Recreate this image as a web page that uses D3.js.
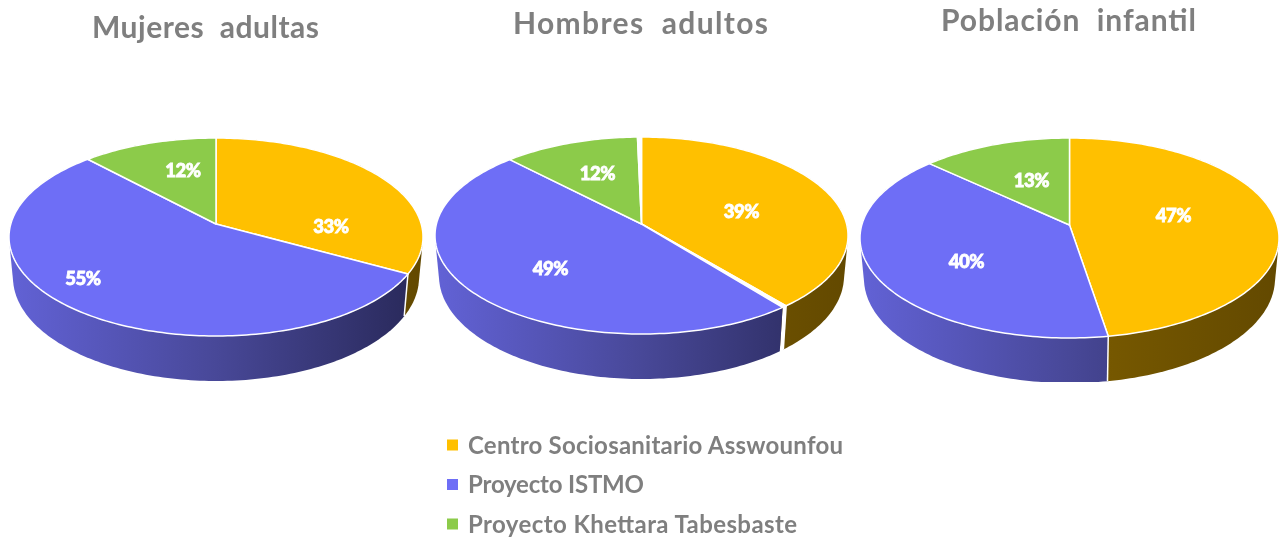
<!DOCTYPE html>
<html>
<head>
<meta charset="utf-8">
<script src="https://cdn.jsdelivr.net/npm/d3@7"></script>
<style>
  html, body { margin: 0; background: #fff; }
  svg { display: block; filter: blur(0.5px); }
  text { font-family: Lato, "Open Sans", sans-serif; }
</style>
</head>
<body>
<div id="chart"></div>
<script>
var categories = ["Centro Sociosanitario Asswounfou", "Proyecto ISTMO", "Proyecto Khettara Tabesbaste"];
var pieTitles = ["Mujeres  adultas", "Hombres  adultos", "Población  infantil"];

var mujeres = [33, 55, 12];
var hombres = [38.9, 48.5, 11.9];
var infantil = [47.4, 39.5, 13.1];
// hombres has two thin white slivers, one after yellow and one after green
var mujeresGaps = [0, 0, 0];
var hombresGaps = [0.35, 0, 0.35];
var infantilGaps = [0, 0, 0];

var colors = ["#FFC000", "#6E6EF6", "#8CCB4A"];

var width = 1279, height = 537;

// top: back of rim, apex: where the slices meet, bottom: front of rim
var layout = [
  { values: mujeres, gaps: mujeresGaps, cx: 216, rx: 207, top: 138, apex: 224, bottom: 336, titleX: 205.5, titleY: 38, titleW: 227, labels: [[115, 3], [-133, 55], [-33, -53]] },
  { values: hombres, gaps: hombresGaps, cx: 641.5, rx: 206.5, top: 137, apex: 224, bottom: 334, titleX: 640.5, titleY: 34, titleW: 255, labels: [[100, -12], [-91, 45], [-44, -50]] },
  { values: infantil, gaps: infantilGaps, cx: 1069.5, rx: 209.5, top: 138, apex: 225, bottom: 338, titleX: 1068.5, titleY: 31, titleW: 255, labels: [[104, -9], [-103, 37], [-38, -44]] }
];
var legendWidths = [375, 176, 329];
var wallDepth = 45, wallInset = 4, wallBackDepth = 36;

var svg = d3.select("#chart").append("svg")
  .attr("width", width)
  .attr("height", height);

var defs = svg.append("defs");

// the source picture is cut just under the pies
defs.append("clipPath").attr("id", "cut")
  .append("rect")
  .attr("x", 0).attr("y", 0)
  .attr("width", width).attr("height", 382);

// maps a point of the flat disc to the screen, so the apex sits off centre like in the picture
function makeProjection(cx, rx, top, apex, bottom) {
  var c = (2 * apex - top - bottom) / (bottom - top);
  var a = bottom + bottom * c - apex;
  var k = rx * Math.sqrt(1 - c * c);
  return function(angle, r) {
    var x = Math.sin(angle) * r;
    var z = -Math.cos(angle) * r;
    var w = 1 + c * z;
    return [cx + k * x / w, (a * z + apex) / w];
  };
}

function samples(d) {
  var n = Math.max(2, Math.ceil((d.endAngle - d.startAngle) / 0.02));
  return d3.range(n + 1).map(function(i) {
    return d.startAngle + (d.endAngle - d.startAngle) * i / n;
  });
}

var line = d3.line();
var pie = d3.pie().sort(null).value(function(d) { return d.value; });

layout.forEach(function(p, idx) {
  var topFace = makeProjection(p.cx, p.rx, p.top, p.apex, p.bottom);
  var lowFace = makeProjection(p.cx, p.rx - wallInset, p.top + wallBackDepth, p.apex + wallBackDepth + 4, p.bottom + wallDepth);

  // slices with the white slivers put in between
  var rows = [];
  p.values.forEach(function(v, i) {
    rows.push({ value: v, cat: i });
    if (p.gaps[i] > 0) rows.push({ value: p.gaps[i], cat: -1 });
  });
  var arcs = pie(rows);

  var purple = defs.append("linearGradient").attr("id", "purple" + idx)
    .attr("gradientUnits", "userSpaceOnUse")
    .attr("x1", p.cx - p.rx).attr("x2", p.cx + p.rx).attr("y1", 0).attr("y2", 0);
  purple.append("stop").attr("offset", "0%").attr("stop-color", "#6262D6");
  purple.append("stop").attr("offset", "50%").attr("stop-color", "#484898");
  purple.append("stop").attr("offset", "100%").attr("stop-color", "#282858");

  var yellow = defs.append("linearGradient").attr("id", "yellow" + idx)
    .attr("gradientUnits", "userSpaceOnUse")
    .attr("x1", p.cx - p.rx).attr("x2", p.cx + p.rx).attr("y1", 0).attr("y2", 0);
  yellow.append("stop").attr("offset", "50%").attr("stop-color", "#7A5B00");
  yellow.append("stop").attr("offset", "100%").attr("stop-color", "#634900");

  var g = svg.append("g");
  var walls = g.append("g").attr("clip-path", "url(#cut)");

  // hull of both rims, the top face hides whatever lies above the front edge
  walls.selectAll("path")
    .data(arcs)
    .enter()
    .append("path")
    .attr("d", function(d) {
      var angles = samples(d);
      var upper = angles.map(function(a) { return topFace(a, 1); });
      var lower = angles.map(function(a) { return lowFace(a, 1); });
      return line(d3.polygonHull(upper.concat(lower))) + "Z";
    })
    .attr("fill", function(d) {
      if (d.data.cat === 0) return "url(#yellow" + idx + ")";
      if (d.data.cat === 1) return "url(#purple" + idx + ")";
      if (d.data.cat === 2) return "#4F7A24";
      return "#fff";
    });

  // white seams where two slices meet on the front of the wall
  walls.selectAll("line")
    .data(arcs.filter(function(d) {
      return d.data.cat >= 0 && Math.cos(d.endAngle) < -0.2;
    }))
    .enter()
    .append("line")
    .attr("x1", function(d) { return topFace(d.endAngle, 1)[0]; })
    .attr("y1", function(d) { return topFace(d.endAngle, 1)[1]; })
    .attr("x2", function(d) { return lowFace(d.endAngle, 1)[0]; })
    .attr("y2", function(d) { return lowFace(d.endAngle, 1)[1]; })
    .attr("stroke", "#fff")
    .attr("stroke-width", 1.5);

  g.append("g").selectAll("path")
    .data(arcs)
    .enter()
    .append("path")
    .attr("d", function(d) {
      var pts = samples(d).map(function(a) { return topFace(a, 1); });
      return line([topFace(0, 0)].concat(pts)) + "Z";
    })
    .attr("fill", function(d) { return d.data.cat >= 0 ? colors[d.data.cat] : "#fff"; })
    .attr("stroke", "#fff")
    .attr("stroke-width", 1.5)
    .attr("stroke-linejoin", "round");

  g.append("g").selectAll("text")
    .data(p.values)
    .enter()
    .append("text")
    .attr("x", function(d, i) { return p.cx + p.labels[i][0]; })
    .attr("y", function(d, i) { return p.apex + p.labels[i][1]; })
    .attr("dy", "0.35em")
    .attr("text-anchor", "middle")
    .style("font-size", "18.5px")
    .style("font-weight", "900")
    .style("letter-spacing", "-0.5px")
    .style("fill", "#fff")
    .style("stroke", "#fff")
    .style("stroke-width", "0.8px")
    .text(function(d) { return Math.round(d) + "%"; });

  svg.append("text")
    .attr("x", p.titleX)
    .attr("y", p.titleY)
    .attr("text-anchor", "middle")
    .attr("textLength", p.titleW)
    .attr("lengthAdjust", "spacing")
    .style("font-size", "30px")
    .style("font-weight", "700")
    .style("white-space", "pre")
    .style("fill", "#7F7F7F")
    .text(pieTitles[idx]);
});

// legend
var legendY = d3.scalePoint().domain(categories).range([445, 524]);

var legend = svg.append("g").selectAll("g")
  .data(categories)
  .enter()
  .append("g")
  .attr("transform", function(d) { return "translate(447," + legendY(d) + ")"; });

legend.append("rect")
  .attr("x", 0)
  .attr("y", -5.5)
  .attr("width", 11)
  .attr("height", 11)
  .attr("fill", function(d, i) { return colors[i]; });

legend.append("text")
  .attr("x", 21)
  .attr("y", 0)
  .attr("dy", "0.36em")
  .attr("textLength", function(d, i) { return legendWidths[i]; })
  .attr("lengthAdjust", "spacing")
  .style("font-size", "24px")
  .style("font-weight", "700")
  .style("fill", "#7F7F7F")
  .text(function(d) { return d; });
</script>
</body>
</html>
